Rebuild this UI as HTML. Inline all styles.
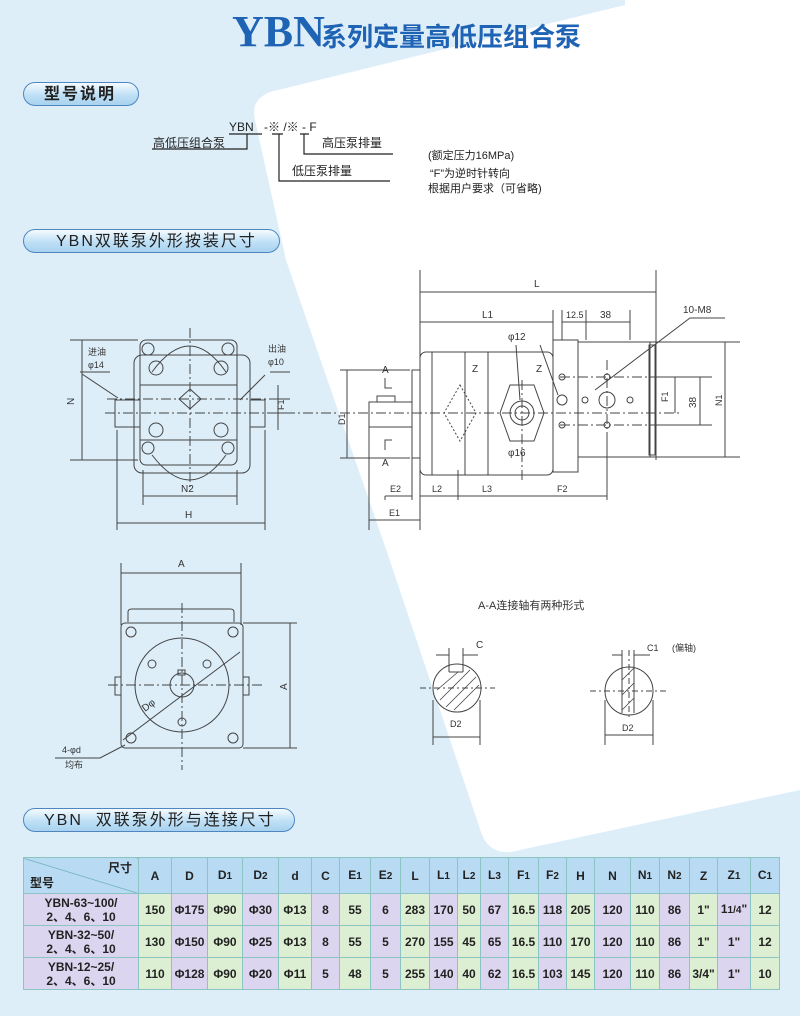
<!DOCTYPE html>
<html><head><meta charset="utf-8"><style>
body{margin:0;width:800px;height:1016px;overflow:hidden;background:#ddeef9;font-family:"Liberation Sans","Noto Sans CJK SC",sans-serif;}
#bg{position:absolute;left:0;top:0}
.pill{position:absolute;height:24px;border:1.5px solid #4f86c0;border-radius:13px;background:linear-gradient(#f4fbff,#bfe0f6 55%,#a8d2ef);font-size:16px;font-weight:bold;color:#222;line-height:24px;box-sizing:border-box;padding-left:20px;letter-spacing:2px;}
table{position:absolute;left:23px;top:857px;border-collapse:collapse;font-size:12px;font-weight:bold;color:#222;}
td{border:1.5px solid #8cc4c4;text-align:center;padding:0;line-height:14px;}
tr.h td{background:#b8dbf3;height:35px}
tr.r td{height:31px}
.g{background:#ddefd2}.p{background:#dcd5ef}
</style></head><body>
<svg id="bg" width="800" height="1016" xmlns="http://www.w3.org/2000/svg">
<path d="M625,0 L800,0 L800,790 L520,850 Q492,858 482,835 L388,555 L286,260 L255,120 Q250,100 270,92 L625,5 Z" fill="#fff"/>
<g font-family="Liberation Sans, Noto Sans CJK SC, sans-serif" fill="#222">
<text x="232" y="46" font-family="Liberation Serif, serif" font-size="44" font-weight="bold" fill="#1f63b5">YBN</text>
<text x="321" y="46" font-size="26" font-weight="bold" fill="#1f63b5">系列定量高低压组合泵</text>
<text x="229" y="131" font-size="12">YBN</text>
<text x="264" y="131" font-size="12">-※ /※ - F</text>
<g stroke="#222" stroke-width="1.2" fill="none">
<path d="M229,134 H262 M247,134 V149 H152"/>
<path d="M272,134 H283 M279,134 V181 H390"/>
<path d="M300,134 H309 M304,134 V154 H393"/>
</g>
<text x="153" y="147" font-size="12">高低压组合泵</text>
<text x="322" y="147" font-size="12">高压泵排量</text>
<text x="292" y="175" font-size="12">低压泵排量</text>
<text x="428" y="159" font-size="11">(额定压力16MPa)</text>
<text x="430" y="177" font-size="11">“F”为逆时针转向</text>
<text x="428" y="192" font-size="11">根据用户要求（可省略)</text>
</g>
<g stroke="#444" stroke-width="1" fill="none">
<path d="M70,340 H138 M70,460 H138 M82,340 V460"/>
<rect x="134" y="355" width="116" height="118" rx="8"/>
<rect x="140" y="340" width="97" height="125" rx="6"/>
<path d="M115,400 h25 v27 h-25 z M250,400 h15 v27 h-15 z"/>
<path d="M152,372 Q190,320 226,372 M152,455 Q190,505 226,455 M140,385 H237 M140,440 H237"/>
<path d="M190,389 L201,399 L190,409 L179,399 Z"/>
<circle cx="148" cy="349" r="6"/><circle cx="228" cy="349" r="6"/>
<circle cx="156" cy="368" r="7"/><circle cx="221" cy="368" r="7"/>
<circle cx="156" cy="430" r="7"/><circle cx="221" cy="430" r="7"/>
<circle cx="148" cy="448" r="6"/><circle cx="228" cy="448" r="6"/>
<path d="M190,328 V490 M105,413 H339 M107,399 H280" stroke-dasharray="10,3,2,3"/>
<path d="M278,385 V430 M270,399 H290 M270,413 H290"/>
<path d="M82,374 L118,398 M265,375 L240,400 M270,372 H290 M80,372 H110"/>
<path d="M143,470 V505 M237,470 V505 M143,496 H237 M117,430 V530 M265,430 V530 M117,523 H265"/>
<path d="M420,270 V530 M656,270 V460 M420,292 H656 M420,322 H553 M553,310 V340 M562,310 V340 M586,310 V340 M630,310 V340 M562,322 H630"/>
<rect x="420" y="352" width="133" height="123" rx="6"/>
<rect x="412" y="370" width="8" height="88"/>
<rect x="369" y="402" width="43" height="25"/>
<rect x="377" y="396" width="18" height="6"/>
<path d="M432,352 V475 M465,352 V475 M488,352 V475"/>
<rect x="553" y="340" width="25" height="132"/>
<rect x="578" y="342" width="72" height="115"/>
<rect x="649" y="345" width="6" height="110"/>
<path d="M510,385 H534 L544,413 L534,441 H510 L500,413 Z"/>
<circle cx="522" cy="413" r="12"/><circle cx="522" cy="413" r="7"/>
<path d="M460,385 L476,413 L460,441 L444,413 Z" stroke-dasharray="2,2"/>
<circle cx="562" cy="377" r="3"/><circle cx="562" cy="400" r="5"/><circle cx="562" cy="425" r="3"/>
<circle cx="607" cy="377" r="3"/><circle cx="607" cy="425" r="3"/><circle cx="585" cy="400" r="3"/><circle cx="630" cy="400" r="3"/><circle cx="607" cy="400" r="8"/>
<path d="M340,413 H680 M560,377 H660 M560,425 H660 M522,380 V480 M607,360 V440" stroke-dasharray="10,3,2,3"/>
<path d="M340,370 H410 M340,458 H410 M347,370 V458 M385,378 V388 H392 M385,450 V440 H392"/>
<path d="M650,342 H740 M650,457 H740 M725,342 V457 M660,377 H712 M660,425 H712 M700,377 V425 M675,377 V413"/>
<path d="M725,318 H690 L595,390 M540,345 L558,395 M516,345 L520,400"/>
<path d="M385,496 V500 M412,420 V500 M458,470 V500 M607,440 V500 M369,427 V530 M385,496 H412 M420,496 H458 M458,496 H520 M520,496 H607 M369,520 H420"/>
<path d="M121,563 V625 M241,563 V625 M121,573 H241"/>
<path d="M128,622 V612 Q128,609 132,609 H230 Q234,609 234,612 V622"/>
<rect x="121" y="623" width="122" height="125" rx="4"/>
<circle cx="131" cy="632" r="5"/><circle cx="233" cy="632" r="5"/><circle cx="131" cy="738" r="5"/><circle cx="233" cy="738" r="5"/>
<circle cx="182" cy="685" r="47"/><circle cx="182" cy="685" r="12"/>
<rect x="178" y="670" width="7" height="5"/>
<circle cx="152" cy="664" r="4"/><circle cx="207" cy="664" r="4"/><circle cx="182" cy="722" r="4"/>
<path d="M121,677 h-6 v18 h6 M243,677 h6 v18 h-6"/>
<path d="M182,603 V770 M108,685 H265" stroke-dasharray="10,3,2,3"/>
<path d="M123,740 L240,652 M243,623 H297 M243,748 H297 M290,623 V748 M55,758 H100 L125,745"/>
<circle cx="457" cy="688" r="24"/>
<path d="M449,648 V672 M463,648 V672 M449,672 H463 M436,655 H449 M463,655 H478 M433,700 V745 M480,700 V745 M433,737 H480"/>
<path d="M440,700 L470,670 M437,690 L458,672 M446,707 L476,677 M454,710 L479,685" stroke-width="0.8"/>
<path d="M420,688 H495 M629,650 V720 M590,691 H668" stroke-dasharray="6,3,2,3"/>
<circle cx="629" cy="691" r="24"/>
<path d="M622,650 V713 M634,650 V713 M612,655 H622 M634,655 H650 M605,700 V745 M653,700 V745 M605,735 H653"/>
<path d="M622,680 L634,668 M622,695 L634,683 M622,710 L634,698" stroke-width="0.8"/>
</g>
<g font-family="Liberation Sans, Noto Sans CJK SC, sans-serif" fill="#333" font-size="9">
<text x="88" y="355">进油</text><text x="88" y="368">φ14</text>
<text x="268" y="352">出油</text><text x="268" y="365">φ10</text>
<text x="74" y="405" transform="rotate(-90 74 405)" font-size="10">N</text>
<text x="284" y="410" transform="rotate(-90 284 410)">F1</text>
<text x="181" y="492" font-size="10">N2</text><text x="185" y="518" font-size="10">H</text>
<text x="534" y="287" font-size="10">L</text><text x="482" y="318" font-size="10">L1</text>
<text x="566" y="318">12.5</text><text x="600" y="318" font-size="10">38</text>
<text x="683" y="313" font-size="10">10-M8</text>
<text x="508" y="340" font-size="10">φ12</text><text x="508" y="456" font-size="10">φ16</text>
<text x="472" y="372" font-size="10">Z</text><text x="536" y="372" font-size="10">Z</text>
<text x="382" y="373" font-size="10">A</text><text x="382" y="466" font-size="10">A</text>
<text x="345" y="425" transform="rotate(-90 345 425)">D1</text>
<text x="668" y="402" transform="rotate(-90 668 402)">F1</text>
<text x="696" y="408" transform="rotate(-90 696 408)" font-size="10">38</text>
<text x="722" y="406" transform="rotate(-90 722 406)">N1</text>
<text x="390" y="492">E2</text><text x="432" y="492">L2</text><text x="482" y="492">L3</text><text x="557" y="492">F2</text><text x="389" y="516">E1</text>
<text x="178" y="567" font-size="10">A</text>
<text x="287" y="690" transform="rotate(-90 287 690)" font-size="10">A</text>
<text x="145" y="712" transform="rotate(-37 145 712)" font-size="10">Dφ</text>
<text x="62" y="753">4-φd</text><text x="65" y="768">均布</text>
<text x="478" y="609" font-size="11">A-A连接轴有两种形式</text>
<text x="476" y="648" font-size="10">C</text><text x="450" y="727">D2</text>
<text x="647" y="651">C1</text><text x="672" y="651">(偏轴)</text><text x="622" y="731">D2</text>
</g>
</svg>
<div class="pill" style="left:23px;top:82px;width:116px;">型号说明</div>
<div class="pill" style="left:23px;top:229px;width:257px;padding-left:32px;font-weight:normal;">YBN双联泵外形按装尺寸</div>
<div class="pill" style="left:23px;top:808px;width:272px;padding-left:20px;font-weight:normal;">YBN&nbsp; 双联泵外形与连接尺寸</div>
<table>
<colgroup><col style="width:115px"><col style="width:33px"><col style="width:36px"><col style="width:35px"><col style="width:36px"><col style="width:33px"><col style="width:28px"><col style="width:31px"><col style="width:30px"><col style="width:29px"><col style="width:28px"><col style="width:23px"><col style="width:28px"><col style="width:30px"><col style="width:28px"><col style="width:28px"><col style="width:36px"><col style="width:29px"><col style="width:30px"><col style="width:28px"><col style="width:33px"><col style="width:29px"></colgroup>
<tr class="h"><td style="position:relative;background:linear-gradient(to top right,#b8dbf3 49%,#6aa 50%,#b8dbf3 51%);"><span style="position:absolute;right:6px;top:3px">尺寸</span><span style="position:absolute;left:6px;bottom:3px">型号</span></td><td>A</td><td>D</td><td>D<small>1</small></td><td>D<small>2</small></td><td>d</td><td>C</td><td>E<small>1</small></td><td>E<small>2</small></td><td>L</td><td>L<small>1</small></td><td>L<small>2</small></td><td>L<small>3</small></td><td>F<small>1</small></td><td>F<small>2</small></td><td>H</td><td>N</td><td>N<small>1</small></td><td>N<small>2</small></td><td>Z</td><td>Z<small>1</small></td><td>C<small>1</small></td></tr>
<tr class="r"><td class="p">YBN-63~100/<br>2、4、6、10</td><td class="g">150</td><td class="p">Φ175</td><td class="g">Φ90</td><td class="p">Φ30</td><td class="g">Φ13</td><td class="p">8</td><td class="g">55</td><td class="p">6</td><td class="g">283</td><td class="p">170</td><td class="g">50</td><td class="p">67</td><td class="g">16.5</td><td class="p">118</td><td class="g">205</td><td class="p">120</td><td class="g">110</td><td class="p">86</td><td class="g">1"</td><td class="p">1<small>1/4</small>"</td><td class="g">12</td></tr>
<tr class="r"><td class="p">YBN-32~50/<br>2、4、6、10</td><td class="g">130</td><td class="p">Φ150</td><td class="g">Φ90</td><td class="p">Φ25</td><td class="g">Φ13</td><td class="p">8</td><td class="g">55</td><td class="p">5</td><td class="g">270</td><td class="p">155</td><td class="g">45</td><td class="p">65</td><td class="g">16.5</td><td class="p">110</td><td class="g">170</td><td class="p">120</td><td class="g">110</td><td class="p">86</td><td class="g">1"</td><td class="p">1"</td><td class="g">12</td></tr>
<tr class="r"><td class="p">YBN-12~25/<br>2、4、6、10</td><td class="g">110</td><td class="p">Φ128</td><td class="g">Φ90</td><td class="p">Φ20</td><td class="g">Φ11</td><td class="p">5</td><td class="g">48</td><td class="p">5</td><td class="g">255</td><td class="p">140</td><td class="g">40</td><td class="p">62</td><td class="g">16.5</td><td class="p">103</td><td class="g">145</td><td class="p">120</td><td class="g">110</td><td class="p">86</td><td class="g">3/4"</td><td class="p">1"</td><td class="g">10</td></tr>
</table>
</body></html>
